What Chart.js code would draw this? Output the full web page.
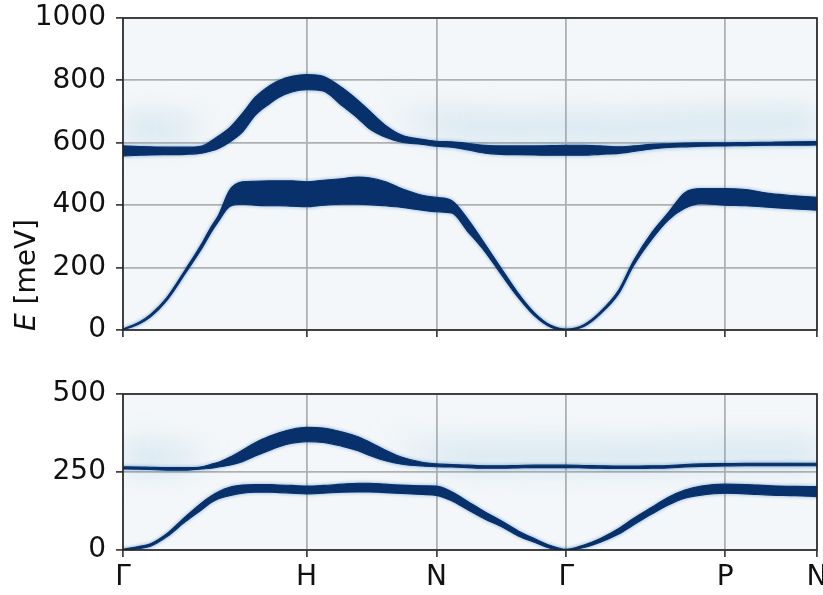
<!DOCTYPE html>
<html>
<head>
<meta charset="utf-8">
<script src="https://cdn.jsdelivr.net/npm/chart.js@4.4.1/dist/chart.umd.min.js"></script>
<style>
  html, body { margin: 0; padding: 0; background: #fff; overflow: hidden; }
  body { width: 823px; height: 595px; position: relative; }
  canvas { position: absolute; left: 0; }
  #top-chart { top: 0; }
  #bottom-chart { top: 370px; }
</style>
</head>
<body>
<canvas id="top-chart" width="835" height="345"></canvas>
<canvas id="bottom-chart" width="835" height="225"></canvas>
<script>
// k-path positions (path length along Γ-H-N-Γ-P-N)
const K = [0, 0.09, 0.15, 0.24, 0.34, 0.43, 0.48, 0.52, 0.58, 0.65, 0.72, 0.80, 0.85, 0.92, 1.0,
           1.09, 1.19, 1.28, 1.34, 1.43, 1.52, 1.63, 1.707,
           1.79, 1.88, 1.97, 2.06, 2.15, 2.24, 2.33, 2.414,
           2.51, 2.60, 2.70, 2.78, 2.88, 2.97, 3.06, 3.15, 3.28,
           3.39, 3.53, 3.66, 3.78];

const TICK_POS = [0, 1, 1.707, 2.414, 3.28, 3.78];
const TICK_LABELS = ['Γ', 'H', 'N', 'Γ', 'P', 'N'];

// upper panel: band edges in meV
const topOpticHi = [590, 588, 587, 586, 586, 590, 606, 622, 648, 694, 746, 784, 800, 813, 819,
                    813, 778, 736, 704, 656, 624, 611, 605,
                    603, 598, 592, 590, 590, 590, 591, 592,
                    592, 590, 587, 590, 595, 597, 599, 600, 600,
                    601, 602, 603, 604];
const topOpticLo = [558, 560, 561, 562, 563, 567, 574, 582, 602, 634, 688, 726, 746, 763, 770,
                    766, 720, 678, 646, 618, 602, 595, 589,
                    586, 577, 567, 563, 562, 561, 560, 560,
                    560, 563, 566, 572, 580, 585, 587, 589, 590,
                    591, 592, 592, 593];
const topAcousticHi = [3, 26, 50, 105, 194, 278, 331, 368, 448, 475, 477, 478, 478, 478, 475,
                       480, 485, 490, 488, 475, 453, 432, 425,
                       415, 354, 277, 198, 120, 56, 15, 3,
                       17, 59, 128, 221, 312, 376, 440, 453, 453,
                       450, 437, 430, 425];
const topAcousticLo = [0, 20, 42, 96, 182, 262, 313, 348, 395, 403, 400, 398, 398, 397, 395,
                       400, 403, 403, 402, 398, 393, 384, 379,
                       375, 314, 252, 178, 106, 46, 9, 0,
                       11, 51, 116, 205, 290, 352, 390, 405, 400,
                       398, 393, 388, 384];

// lower panel: band edges in meV
const botOpticHi = [267, 266, 265, 264, 264, 267, 275, 281, 297, 320, 344, 365, 376, 387, 393,
                    391, 379, 363, 347, 320, 297, 281, 276,
                    274, 272, 270, 270, 271, 272, 272, 272,
                    271, 270, 269, 269, 270, 271, 274, 276, 277,
                    278, 278, 278, 278];
const botOpticLo = [260, 259, 258, 256, 256, 260, 262, 266, 272, 283, 301, 320, 331, 342, 347,
                    345, 333, 318, 304, 286, 275, 269, 267,
                    266, 264, 262, 262, 263, 264, 264, 264,
                    263, 262, 261, 261, 262, 263, 266, 268, 269,
                    270, 270, 270, 270];
const botAcousticHi = [2, 12, 20, 53, 107, 152, 173, 187, 201, 208, 210, 210, 208, 207, 205,
                       207, 211, 214, 214, 211, 208, 206, 205,
                       187, 155, 123, 94, 62, 37, 14, 2,
                       16, 37, 69, 101, 137, 169, 192, 205, 211,
                       210, 206, 204, 203];
const botAcousticLo = [0, 5, 12, 43, 91, 130, 152, 164, 174, 182, 185, 185, 184, 182, 180,
                       182, 185, 186, 186, 184, 181, 178, 175,
                       158, 128, 99, 75, 46, 25, 5, 0,
                       8, 25, 51, 80, 115, 144, 166, 176, 182,
                       180, 176, 174, 171];

const NAVY = '#08306b';
const FONT = { family: 'DejaVu Sans', size: 28 };
const HAZE_ON = 'rgba(107,174,214,0.17)';
const HAZE_OFF = 'rgba(107,174,214,0)';

function pts(arr) {
    return K.map((k, i) => ({ x: k, y: arr[i] }));
}

// glow over the flat parts of the band, faded out around the H hump
function hazeColor(ctx) {
    const chart = ctx.chart;
    const xs = chart.scales.x;
    if (!chart.chartArea || !xs) return HAZE_ON;
    const x0 = xs.getPixelForValue(0);
    const x1 = xs.getPixelForValue(3.78);
    const g = chart.ctx.createLinearGradient(x0, 0, x1, 0);
    const at = (k) => (xs.getPixelForValue(k) - x0) / (x1 - x0);
    g.addColorStop(0, HAZE_ON);
    g.addColorStop(at(0.25), HAZE_ON);
    g.addColorStop(at(0.5), HAZE_OFF);
    g.addColorStop(at(1.4), HAZE_OFF);
    g.addColorStop(at(1.8), HAZE_ON);
    g.addColorStop(1, HAZE_ON);
    return g;
}

function addBand(list, hi, lo, hazeLift) {
    if (hazeLift) {
        list.push({ data: pts(hi), borderColor: hazeColor, borderWidth: 36, borderCapStyle: 'butt',
                    blur: 12, lift: hazeLift, order: 9 });
    }
    list.push({ data: pts(hi), borderColor: 'rgba(33,113,181,0.35)', borderWidth: 3, blur: 1.5, order: 5 });
    list.push({ data: pts(lo), borderColor: 'rgba(33,113,181,0.35)', borderWidth: 3, blur: 1.5, order: 5 });
    const hiIdx = list.length;
    list.push({ data: pts(hi), borderColor: NAVY, borderWidth: 1.1, order: 1 });
    list.push({ data: pts(lo), borderColor: NAVY, borderWidth: 1.1, fill: hiIdx, backgroundColor: NAVY, order: 1 });
}

// blur / shift glow lines before they are stroked
const softPlugin = {
    id: 'soft',
    beforeDatasetDraw(chart, args) {
        const ds = chart.data.datasets[args.index];
        if (!ds.blur && !ds.lift) return;
        const ctx = chart.ctx;
        ctx.save();
        if (ds.blur) ctx.filter = `blur(${ds.blur}px)`;
        if (ds.lift) ctx.translate(0, -ds.lift);
    },
    afterDatasetDraw(chart, args) {
        const ds = chart.data.datasets[args.index];
        if (ds.blur || ds.lift) chart.ctx.restore();
    }
};

const framePlugin = {
    id: 'frame',
    beforeDraw(chart) {
        const { ctx, chartArea: a } = chart;
        ctx.save();
        ctx.fillStyle = '#f4f7f9';
        ctx.fillRect(a.left, a.top, a.right - a.left, a.bottom - a.top);
        ctx.restore();
    },
    afterDraw(chart) {
        const { ctx, chartArea: a } = chart;
        ctx.save();
        ctx.strokeStyle = '#222';
        ctx.lineWidth = 1.6;
        ctx.strokeRect(a.left, a.top, a.right - a.left, a.bottom - a.top);
        ctx.restore();
    }
};

const yTitlePlugin = {
    id: 'ytitle',
    afterDraw(chart) {
        const ctx = chart.ctx;
        ctx.save();
        ctx.translate(28, 275);
        ctx.rotate(-Math.PI / 2);
        ctx.fillStyle = '#111';
        ctx.textBaseline = 'middle';
        const italic = 'italic 28px "DejaVu Sans"';
        const normal = '28px "DejaVu Sans"';
        ctx.font = italic;
        const w1 = ctx.measureText('E').width;
        ctx.font = normal;
        const w2 = ctx.measureText(' [meV]').width;
        const x0 = -(w1 + w2) / 2;
        ctx.font = italic;
        ctx.fillText('E', x0, 0);
        ctx.font = normal;
        ctx.fillText(' [meV]', x0 + w1, 0);
        ctx.restore();
    }
};

function noPad(s) {
    s.paddingTop = 0;
    s.paddingBottom = 0;
    s.paddingLeft = 0;
    s.paddingRight = 0;
}

function makeChart(id, datasets, yMax, yStep, showX, xHeight, padTop, extraPlugins) {
    const grid = { color: '#b0b0b0', lineWidth: 1.8, tickColor: '#222', tickLength: 7, tickWidth: 1.5 };
    return new Chart(document.getElementById(id), {
        type: 'line',
        data: { datasets },
        options: {
            responsive: false,
            animation: false,
            devicePixelRatio: 1,
            layout: { padding: { left: 0, right: 18, top: padTop, bottom: 0 } },
            elements: {
                point: { radius: 0 },
                line: { cubicInterpolationMode: 'monotone', borderCapStyle: 'round' }
            },
            plugins: {
                legend: { display: false },
                tooltip: { enabled: false }
            },
            scales: {
                x: {
                    type: 'linear',
                    min: 0,
                    max: 3.78,
                    z: 1,
                    afterBuildTicks: (s) => { s.ticks = TICK_POS.map((v) => ({ value: v })); },
                    afterFit: (s) => { s.height = xHeight; noPad(s); },
                    ticks: {
                        display: showX,
                        autoSkip: false,
                        maxRotation: 0,
                        padding: 4,
                        color: '#111',
                        font: FONT,
                        callback: (v, i) => TICK_LABELS[i]
                    },
                    grid,
                    border: { display: false }
                },
                y: {
                    min: 0,
                    max: yMax,
                    z: 1,
                    afterFit: (s) => { s.width = 123; noPad(s); },
                    ticks: { stepSize: yStep, padding: 10, color: '#111', font: FONT, callback: (v) => String(v) },
                    grid,
                    border: { display: false }
                }
            }
        },
        plugins: [framePlugin, softPlugin].concat(extraPlugins)
    });
}

const topSets = [];
addBand(topSets, topOpticHi, topOpticLo, 18);
addBand(topSets, topAcousticHi, topAcousticLo, 0);
makeChart('top-chart', topSets, 1000, 200, false, 15, 18, [yTitlePlugin]);

const botSets = [];
addBand(botSets, botOpticHi, botOpticLo, 10);
addBand(botSets, botAcousticHi, botAcousticLo, 0);
makeChart('bottom-chart', botSets, 500, 250, true, 45, 24, []);
</script>
</body>
</html>
